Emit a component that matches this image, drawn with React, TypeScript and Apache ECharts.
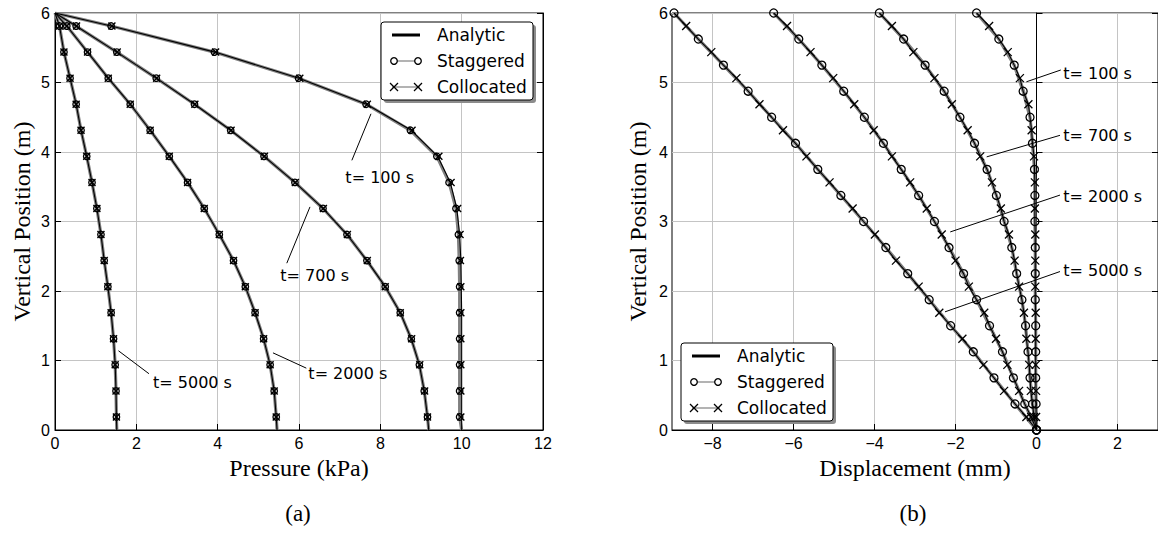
import React, { useEffect, useRef } from 'react';
import * as echarts from 'echarts';

// vertical positions (m)
const cellY = [5.8125, 5.4375, 5.0625, 4.6875, 4.3125, 3.9375, 3.5625, 3.1875, 2.8125, 2.4375, 2.0625, 1.6875, 1.3125, 0.9375, 0.5625, 0.1875];
const nodeY = [6, 5.625, 5.25, 4.875, 4.5, 4.125, 3.75, 3.375, 3, 2.625, 2.25, 1.875, 1.5, 1.125, 0.75, 0.375, 0];
const anaPY = [6, ...cellY, 0];

const timeLabels = ['t= 100 s', 't= 700 s', 't= 2000 s', 't= 5000 s'];
const xTicksA = [0, 2, 4, 6, 8, 10, 12];
const xTicksB = [-8, -6, -4, -2, 0, 2];
const yTicks = [0, 1, 2, 3, 4, 5, 6];

// Pressure (kPa), at cellY
const pStag100 = [1.38, 3.92, 5.99, 7.65, 8.74, 9.39, 9.69, 9.86, 9.92, 9.94, 9.95, 9.95, 9.95, 9.95, 9.95, 9.95];
const pColl100 = [1.4, 3.95, 6.02, 7.68, 8.78, 9.44, 9.74, 9.9, 9.96, 9.97, 9.98, 9.98, 9.98, 9.98, 9.98, 9.98];
const pStag700 = [0.52, 1.52, 2.49, 3.43, 4.32, 5.14, 5.9, 6.59, 7.18, 7.67, 8.12, 8.49, 8.76, 8.96, 9.08, 9.16];
const pColl700 = [0.53, 1.53, 2.5, 3.44, 4.33, 5.15, 5.91, 6.6, 7.19, 7.68, 8.12, 8.49, 8.77, 8.97, 9.09, 9.16];
const pStag2000 = [0.29, 0.8, 1.31, 1.85, 2.34, 2.81, 3.26, 3.67, 4.04, 4.39, 4.68, 4.92, 5.13, 5.29, 5.39, 5.44];
const pColl2000 = [0.29, 0.8, 1.31, 1.85, 2.34, 2.81, 3.26, 3.67, 4.04, 4.39, 4.68, 4.92, 5.13, 5.29, 5.39, 5.44];
const pStag5000 = [0.11, 0.22, 0.37, 0.52, 0.64, 0.78, 0.91, 1.03, 1.13, 1.21, 1.3, 1.38, 1.44, 1.48, 1.5, 1.51];
const pColl5000 = [0.11, 0.22, 0.37, 0.52, 0.64, 0.78, 0.91, 1.03, 1.13, 1.21, 1.3, 1.38, 1.44, 1.48, 1.5, 1.51];
// analytic pressure at anaPY
const pAna100 = [0, 1.38, 3.93, 6.0, 7.66, 8.76, 9.41, 9.72, 9.88, 9.95, 9.98, 9.99, 10, 10, 10, 10, 10, 10];
const pAna700 = [0, 0.52, 1.52, 2.49, 3.43, 4.32, 5.14, 5.9, 6.59, 7.18, 7.67, 8.12, 8.49, 8.76, 8.96, 9.08, 9.16, 9.19];
const pAna2000 = [0, 0.29, 0.8, 1.31, 1.85, 2.34, 2.81, 3.26, 3.67, 4.04, 4.39, 4.68, 4.92, 5.13, 5.29, 5.39, 5.44, 5.46];
const pAna5000 = [0, 0.11, 0.22, 0.37, 0.52, 0.64, 0.78, 0.91, 1.03, 1.13, 1.21, 1.3, 1.38, 1.44, 1.48, 1.5, 1.51, 1.52];

// Displacement (mm): staggered at nodeY, collocated at cellY
const uStag100 = [-1.48, -0.93, -0.55, -0.33, -0.16, -0.1, -0.05, -0.04, -0.04, -0.03, -0.03, -0.03, -0.02, -0.02, -0.02, -0.01, 0];
const uColl100 = [-1.17, -0.71, -0.41, -0.2, -0.12, -0.06, -0.04, -0.04, -0.03, -0.03, -0.03, -0.02, -0.02, -0.02, -0.01, -0.01];
const uStag700 = [-3.88, -3.28, -2.75, -2.28, -1.89, -1.53, -1.22, -0.99, -0.8, -0.61, -0.49, -0.36, -0.27, -0.21, -0.16, -0.1, 0];
const uColl700 = [-3.57, -3.04, -2.52, -2.09, -1.7, -1.39, -1.1, -0.88, -0.68, -0.54, -0.43, -0.31, -0.25, -0.18, -0.14, -0.06];
const uStag2000 = [-6.49, -5.87, -5.3, -4.76, -4.25, -3.78, -3.34, -2.91, -2.52, -2.16, -1.8, -1.48, -1.16, -0.84, -0.57, -0.29, 0];
const uColl2000 = [-6.16, -5.58, -5.02, -4.5, -4.02, -3.57, -3.12, -2.71, -2.34, -2.0, -1.67, -1.29, -1.0, -0.72, -0.43, -0.13];
const uStag5000 = [-8.95, -8.35, -7.73, -7.12, -6.54, -5.95, -5.4, -4.83, -4.27, -3.72, -3.18, -2.65, -2.12, -1.56, -1.05, -0.53, 0];
const uColl5000 = [-8.65, -8.03, -7.41, -6.84, -6.26, -5.68, -5.11, -4.54, -3.99, -3.47, -2.91, -2.4, -1.83, -1.31, -0.8, -0.25];

// annotation anchors, in data coordinates: [from, to, text]
const annoA = [
  [[7.3, 3.88], [7.77, 4.55], [7.14, 3.64]],
  [[6.27, 3.21], [5.7, 2.4], [5.54, 2.23]],
  [[5.36, 1.11], [6.18, 0.89], [6.23, 0.81]],
  [[1.56, 1.14], [2.31, 0.81], [2.41, 0.69]],
];
const annoB = [
  [[-0.25, 5.01], [0.6, 5.18], [0.66, 5.13]],
  [[-1.23, 3.93], [0.58, 4.24], [0.66, 4.24]],
  [[-2.13, 2.85], [0.58, 3.38], [0.66, 3.36]],
  [[-2.26, 1.7], [0.58, 2.28], [0.66, 2.29]],
];

const SANS = "'Liberation Sans', Arial, sans-serif";
const LEG = "'DejaVu Sans', sans-serif";
const SERIF = "'Liberation Serif', 'Times New Roman', serif";
const X_SYM = 'path://M0,0L10,10M10,0L0,10';

function buildOption() {
  const series: any[] = [];
  const pSets = [
    [pStag100, pColl100, pAna100],
    [pStag700, pColl700, pAna700],
    [pStag2000, pColl2000, pAna2000],
    [pStag5000, pColl5000, pAna5000],
  ];
  const lineCommon = { type: 'line', animation: false, silent: true, emphasis: { disabled: true } };
  pSets.forEach(([st, co, an]) => {
    const bottom = an[an.length - 1];
    series.push({
      ...lineCommon, name: 'Staggered', xAxisIndex: 0, yAxisIndex: 0, z: 2,
      data: [{ value: [0, 6], symbol: 'none' }, ...cellY.map((y, i) => [st[i], y]), { value: [bottom, 0], symbol: 'none' }],
      symbol: 'circle', symbolSize: 6.5,
      itemStyle: { color: 'transparent', borderColor: '#000', borderWidth: 1.3 },
      lineStyle: { color: '#808080', width: 3.2 },
    });
    series.push({
      ...lineCommon, name: 'Collocated', xAxisIndex: 0, yAxisIndex: 0, z: 4,
      data: cellY.map((y, i) => [co[i], y]),
      symbol: X_SYM, symbolSize: 7,
      itemStyle: { color: 'transparent', borderColor: '#000', borderWidth: 1.4 },
      lineStyle: { color: '#8a8a8a', width: 0 },
    });
    series.push({
      ...lineCommon, name: 'Analytic', xAxisIndex: 0, yAxisIndex: 0, z: 3,
      data: anaPY.map((y, i) => [an[i], y]),
      symbol: 'none', smooth: false,
      lineStyle: { color: '#000', width: 1.1 },
    });
  });

  const uSets = [
    [uStag100, uColl100],
    [uStag700, uColl700],
    [uStag2000, uColl2000],
    [uStag5000, uColl5000],
  ];
  uSets.forEach(([st, co]) => {
    const merged: number[][] = [];
    nodeY.forEach((y, i) => merged.push([st[i], y]));
    cellY.forEach((y, i) => merged.push([co[i], y]));
    merged.sort((a, b) => b[1] - a[1]);
    series.push({
      ...lineCommon, name: 'Staggered', xAxisIndex: 1, yAxisIndex: 2, z: 2,
      data: nodeY.map((y, i) => [st[i], y]),
      symbol: 'circle', symbolSize: 8,
      itemStyle: { color: 'transparent', borderColor: '#000', borderWidth: 1.3 },
      lineStyle: { color: '#808080', width: 3.2 },
    });
    series.push({
      ...lineCommon, name: 'Collocated', xAxisIndex: 1, yAxisIndex: 2, z: 2,
      data: [...cellY.map((y, i) => [co[i], y]), { value: [0, 0], symbol: 'none' }],
      symbol: X_SYM, symbolSize: 8,
      itemStyle: { color: 'transparent', borderColor: '#000', borderWidth: 1.3 },
      lineStyle: { color: '#8a8a8a', width: 2 },
    });
    series.push({
      ...lineCommon, name: 'Analytic', xAxisIndex: 1, yAxisIndex: 2, z: 3,
      data: merged, symbol: 'none',
      lineStyle: { color: '#000', width: 1.1 },
    });
  });

  const split = { show: true, lineStyle: { color: '#c4c4c4', width: 1 } };
  const axLine = { show: true, lineStyle: { color: '#000', width: 1 } };
  const tick = { show: true, inside: true, length: 6, lineStyle: { color: '#000' } };
  const lbl = { color: '#000', fontFamily: SANS, fontSize: 16 };
  const nameStyle = { color: '#000', fontFamily: SERIF, fontSize: 24 };

  return {
    animation: false,
    backgroundColor: '#fff',
    grid: [
      { left: 55, top: 13, width: 488, height: 417, show: true, borderColor: '#000', borderWidth: 1, backgroundColor: 'transparent' },
      { left: 672, top: 13, width: 488, height: 417, show: true, borderColor: '#000', borderWidth: 1, backgroundColor: 'transparent' },
    ],
    xAxis: [
      {
        gridIndex: 0, type: 'value', min: 0, max: 12,
        axisLine: axLine, splitLine: split,
        axisTick: { ...tick, customValues: xTicksA },
        axisLabel: { ...lbl, margin: 5, customValues: xTicksA },
        name: 'Pressure (kPa)', nameLocation: 'middle', nameGap: 20, nameTextStyle: nameStyle,
      },
      {
        gridIndex: 1, type: 'value', min: -9, max: 3,
        axisLine: axLine, splitLine: split,
        axisTick: { ...tick, customValues: xTicksB },
        axisLabel: { ...lbl, margin: 5, customValues: xTicksB, formatter: (v: number) => String(v).replace('-', '\u2212') },
        name: 'Displacement (mm)', nameLocation: 'middle', nameGap: 20, nameTextStyle: nameStyle,
      },
    ],
    yAxis: [
      {
        gridIndex: 0, type: 'value', min: 0, max: 6,
        axisLine: axLine, splitLine: split,
        axisTick: { ...tick, customValues: yTicks },
        axisLabel: { ...lbl, margin: 5, customValues: yTicks },
        name: 'Vertical Position (m)', nameLocation: 'middle', nameGap: 21, nameTextStyle: nameStyle,
      },
      {
        gridIndex: 0, type: 'value', min: 0, max: 6, position: 'right',
        axisLine: axLine, splitLine: { show: false },
        axisTick: { ...tick, customValues: yTicks }, axisLabel: { show: false },
      },
      {
        gridIndex: 1, type: 'value', min: 0, max: 6,
        axisLine: axLine, splitLine: split,
        axisTick: { ...tick, customValues: yTicks },
        axisLabel: { ...lbl, margin: 4, customValues: yTicks },
        name: 'Vertical Position (m)', nameLocation: 'middle', nameGap: 22, nameTextStyle: nameStyle,
      },
      {
        gridIndex: 1, type: 'value', min: 0, max: 6, position: 'right',
        axisLine: axLine, splitLine: { show: false },
        axisTick: { ...tick, customValues: yTicks }, axisLabel: { show: false },
      },
    ],
    series,
  };
}

function legendGraphic(x0: number, y0: number) {
  const rows = [y0 + 13, y0 + 39, y0 + 65];
  const l1 = x0 + 11;
  const l2 = x0 + 39;
  const tx = x0 + 56;
  const els: any[] = [
    { type: 'rect', shape: { x: x0 + 3, y: y0 + 3, width: 152, height: 78, r: 3 }, style: { fill: '#8c8c8c' }, z: 100 },
    { type: 'rect', shape: { x: x0, y: y0, width: 152, height: 78, r: 3 }, style: { fill: '#fff', stroke: '#000', lineWidth: 1 }, z: 101 },
    { type: 'line', shape: { x1: l1, y1: rows[0], x2: l2, y2: rows[0] }, style: { stroke: '#000', lineWidth: 3 }, z: 102 },
    { type: 'line', shape: { x1: l1, y1: rows[1], x2: l2, y2: rows[1] }, style: { stroke: '#808080', lineWidth: 1.2 }, z: 102 },
    { type: 'circle', shape: { cx: l1 + 2, cy: rows[1], r: 3.3 }, style: { fill: '#fff', stroke: '#000', lineWidth: 1.3 }, z: 103 },
    { type: 'circle', shape: { cx: l2 - 2, cy: rows[1], r: 3.3 }, style: { fill: '#fff', stroke: '#000', lineWidth: 1.3 }, z: 103 },
    { type: 'line', shape: { x1: l1, y1: rows[2], x2: l2, y2: rows[2] }, style: { stroke: '#808080', lineWidth: 1.2 }, z: 102 },
  ];
  [l1 + 2, l2 - 2].forEach((cx) => {
    els.push({ type: 'line', shape: { x1: cx - 4, y1: rows[2] - 4, x2: cx + 4, y2: rows[2] + 4 }, style: { stroke: '#000', lineWidth: 1.3 }, z: 103 });
    els.push({ type: 'line', shape: { x1: cx - 4, y1: rows[2] + 4, x2: cx + 4, y2: rows[2] - 4 }, style: { stroke: '#000', lineWidth: 1.3 }, z: 103 });
  });
  ['Analytic', 'Staggered', 'Collocated'].forEach((t, i) => {
    els.push({ type: 'text', x: tx, y: rows[i], style: { text: t, fill: '#000', font: `17px ${LEG}`, textVerticalAlign: 'middle', verticalAlign: 'middle' }, z: 103 });
  });
  return els;
}

export default function App() {
  const ref = useRef<HTMLDivElement>(null);
  useEffect(() => {
    const chart = echarts.init(ref.current!, null, { renderer: 'svg' });
    chart.setOption(buildOption());
    const g: any[] = [];
    const addAnno = (list: number[][][], gridIndex: number) => {
      list.forEach((a, i) => {
        const p1 = chart.convertToPixel({ gridIndex } as any, a[0]) as number[];
        const p2 = chart.convertToPixel({ gridIndex } as any, a[1]) as number[];
        const pt = chart.convertToPixel({ gridIndex } as any, a[2]) as number[];
        g.push({ type: 'line', shape: { x1: p1[0], y1: p1[1], x2: p2[0], y2: p2[1] }, style: { stroke: '#000', lineWidth: 1 }, z: 50 });
        g.push({ type: 'text', x: pt[0], y: pt[1], style: { text: timeLabels[i], fill: '#000', font: `16px ${LEG}`, verticalAlign: 'middle', textVerticalAlign: 'middle' }, z: 50 });
      });
    };
    addAnno(annoA, 0);
    addAnno(annoB, 1);
    g.push(...legendGraphic(381, 22));
    g.push(...legendGraphic(681, 343));
    g.push({ type: 'text', x: 298, y: 513, style: { text: '(a)', fill: '#000', font: `23px ${SERIF}`, align: 'center', verticalAlign: 'middle', textAlign: 'center', textVerticalAlign: 'middle' } });
    g.push({ type: 'text', x: 913, y: 513, style: { text: '(b)', fill: '#000', font: `23px ${SERIF}`, align: 'center', verticalAlign: 'middle', textAlign: 'center', textVerticalAlign: 'middle' } });
    chart.setOption({ graphic: g });
    return () => chart.dispose();
  }, []);
  return <div ref={ref} style={{ position: 'fixed', left: 0, top: 0, width: 1158, height: 534 }} />;
}
